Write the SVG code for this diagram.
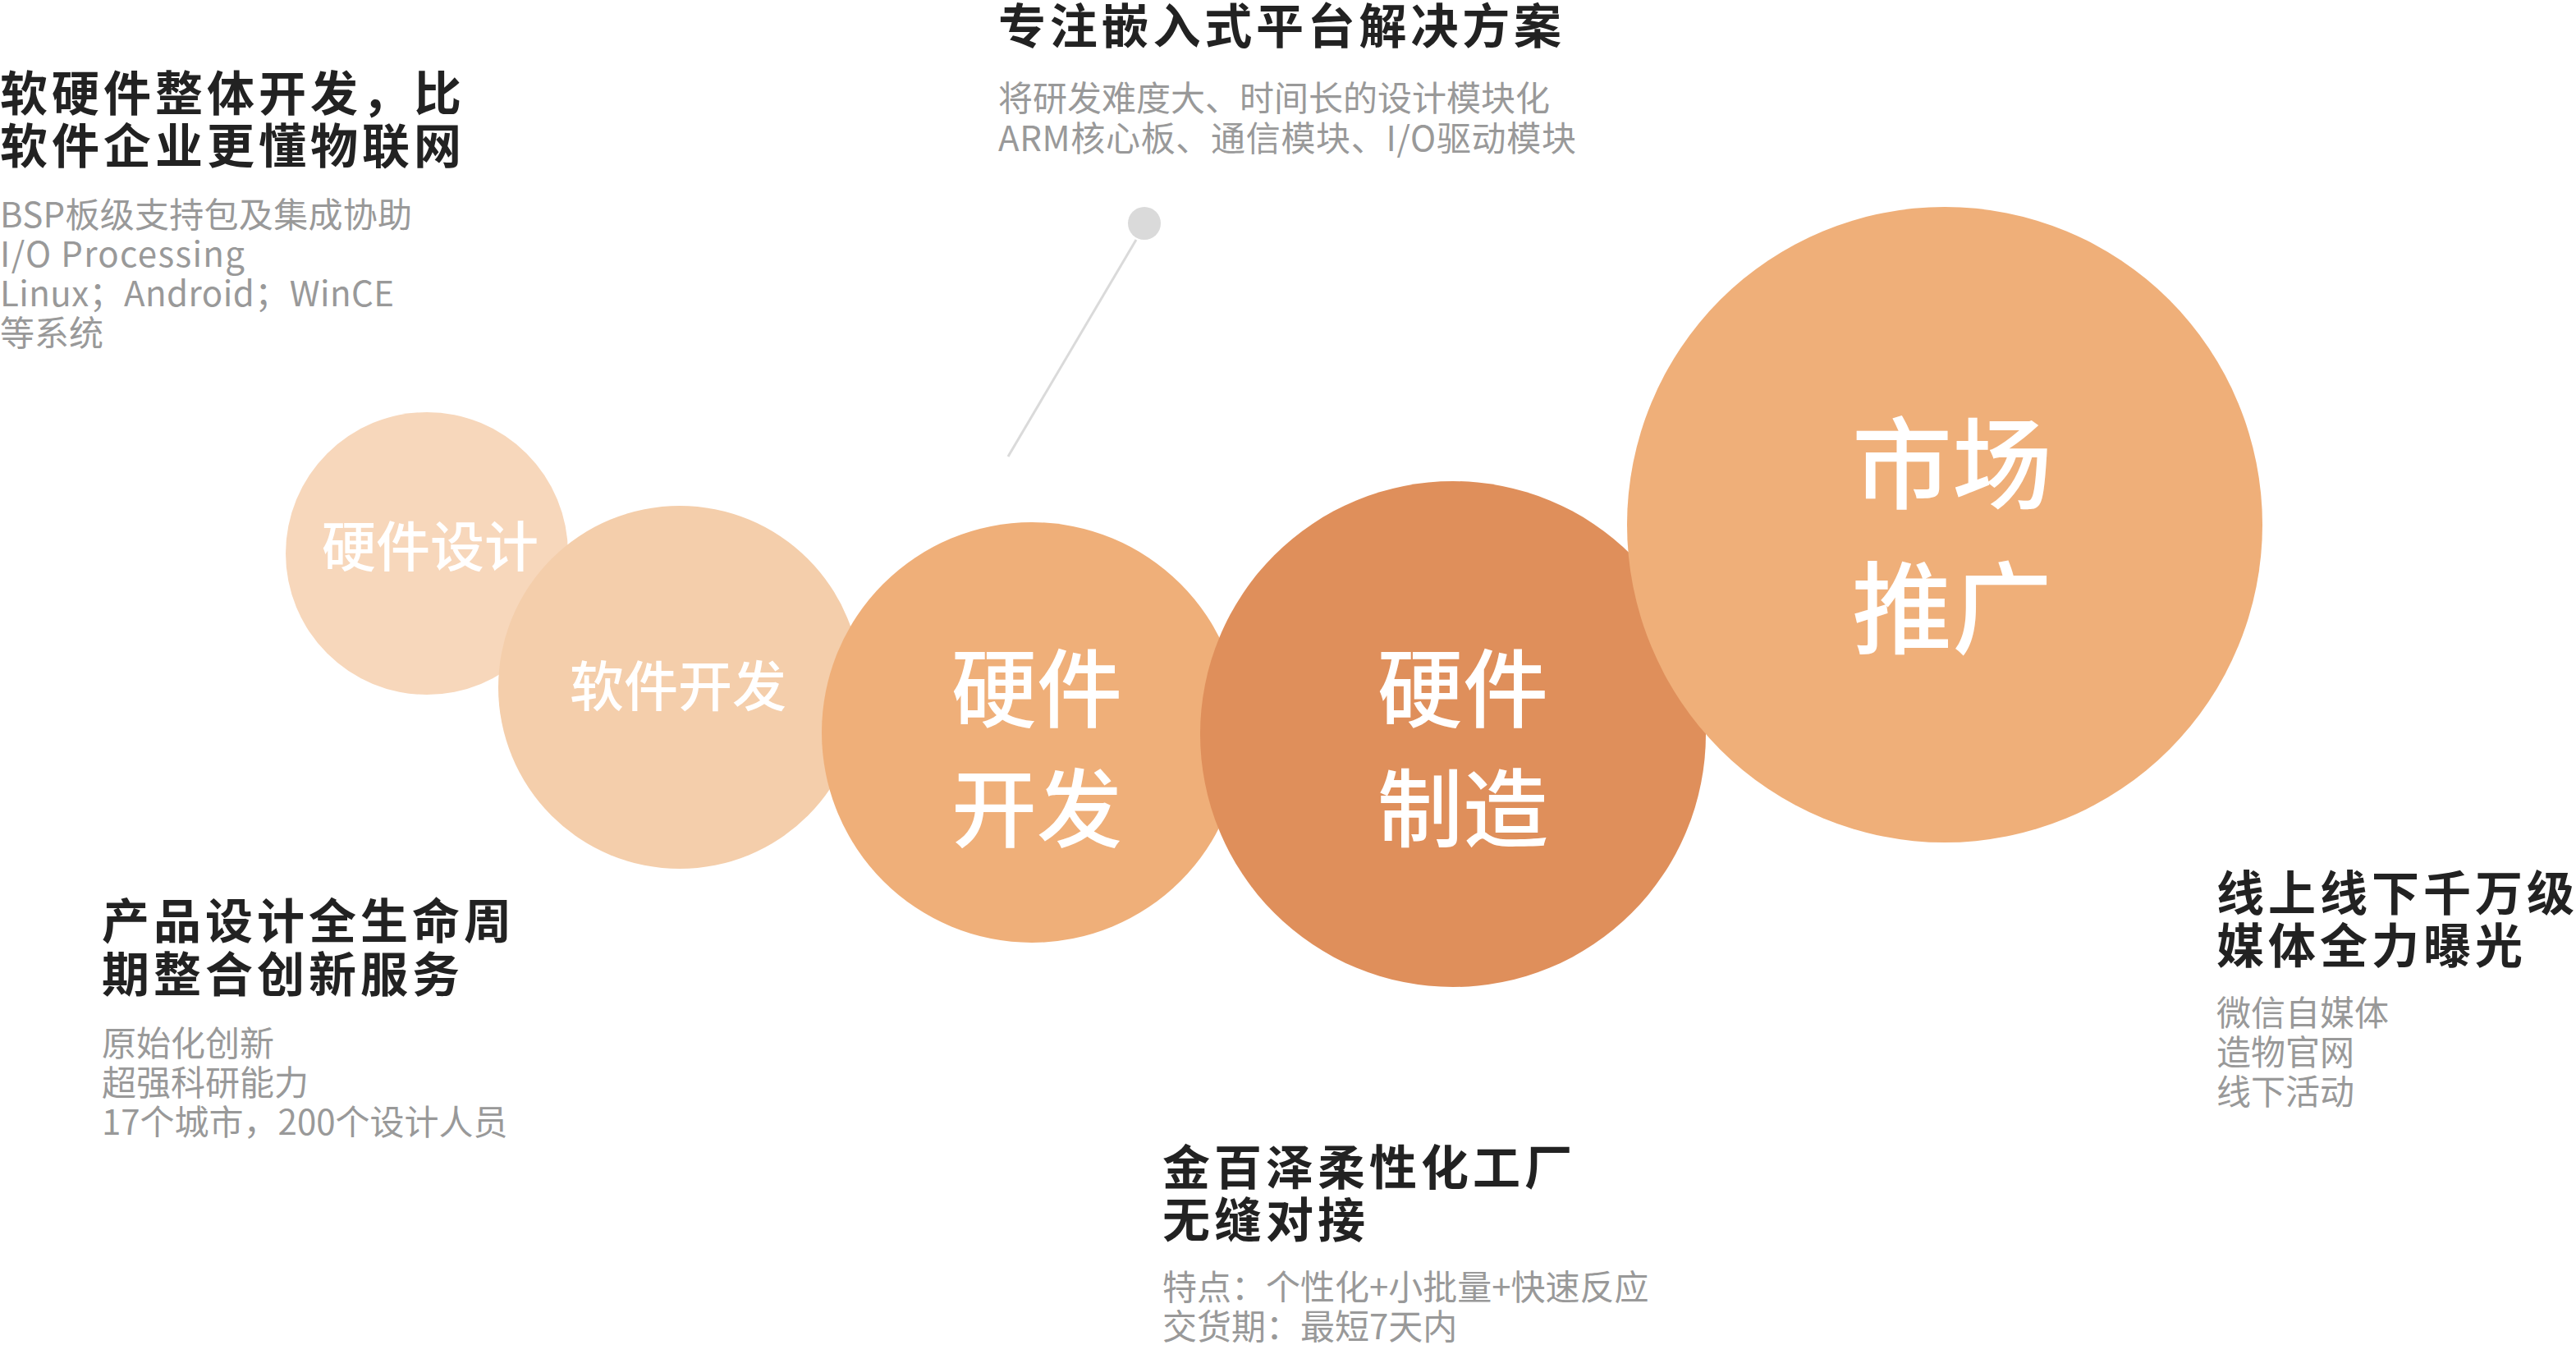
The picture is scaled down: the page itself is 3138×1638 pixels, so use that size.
<svg xmlns="http://www.w3.org/2000/svg" width="3138" height="1638" viewBox="0 0 3138 1638">
<style>
text{font-family:"Noto Sans CJK SC","Liberation Sans",sans-serif;}
.t{font-size:58px;font-weight:700;fill:#222222;letter-spacing:5px;}
.tc{font-size:58px;font-weight:700;fill:#222222;}
.g{font-size:42px;font-weight:400;fill:#999999;}
.c{fill:#ffffff;font-weight:500;text-anchor:middle;}
</style>
<rect width="3138" height="1638" fill="#ffffff"/>
<g id="connectors">
<line x1="1384" y1="292" x2="1228" y2="556" stroke="#dadada" stroke-width="3"/>
<circle cx="1394" cy="272" r="20" fill="#dadada"/>
</g>
<g id="node-hw-design">
<circle cx="520" cy="674" r="172" fill="#f7d7bb"/>
<text class="c" x="524" y="690" font-size="66">硬件设计</text>
</g>
<g id="node-sw-dev">
<circle cx="828" cy="837" r="221" fill="#f4ceab"/>
<text class="c" x="826" y="860" font-size="66">软件开发</text>
</g>
<g id="node-hw-dev">
<circle cx="1257" cy="892" r="256" fill="#efaf79"/>
<text class="c" x="1263" y="878" font-size="104">硬件</text>
<text class="c" x="1263" y="1024" font-size="104">开发</text>
</g>
<g id="node-hw-mfg">
<circle cx="1770" cy="894" r="308" fill="#df8f5b"/>
<text class="c" x="1782" y="878" font-size="104">硬件</text>
<text class="c" x="1782" y="1024" font-size="104">制造</text>
</g>
<g id="node-market">
<circle cx="2369" cy="639" r="387" fill="#efaf79"/>
<text class="c" x="2378" y="610" font-size="122">市场</text>
<text class="c" x="2378" y="786" font-size="122">推广</text>
</g>
<g id="note-software">
<text class="t" x="0" y="135">软硬件整体开发，比</text>
<text class="t" x="0" y="199">软件企业更懂物联网</text>
<text class="g" x="0" y="277" textLength="502" lengthAdjust="spacing">BSP板级支持包及集成协助</text>
<text class="g" x="0" y="325" textLength="298" lengthAdjust="spacing">I/O Processing</text>
<text class="g" x="0" y="373" textLength="480" lengthAdjust="spacing">Linux；Android；WinCE</text>
<text class="g" x="0" y="421">等系统</text>
</g>
<g id="note-embedded">
<text class="tc" x="1216" y="53" textLength="686" lengthAdjust="spacing">专注嵌入式平台解决方案</text>
<text class="g" x="1216" y="135">将研发难度大、时间长的设计模块化</text>
<text class="g" x="1216" y="184" textLength="704" lengthAdjust="spacing">ARM核心板、通信模块、I/O驱动模块</text>
</g>
<g id="note-design">
<text class="t" x="124" y="1143">产品设计全生命周</text>
<text class="t" x="124" y="1208">期整合创新服务</text>
<text class="g" x="124" y="1286">原始化创新</text>
<text class="g" x="124" y="1334">超强科研能力</text>
<text class="g" x="124" y="1382">17个城市，200个设计人员</text>
</g>
<g id="note-factory">
<text class="t" x="1416" y="1443">金百泽柔性化工厂</text>
<text class="t" x="1416" y="1507">无缝对接</text>
<text class="g" x="1416" y="1583">特点：个性化+小批量+快速反应</text>
<text class="g" x="1416" y="1631">交货期：最短7天内</text>
</g>
<g id="note-market">
<text class="t" x="2700" y="1109">线上线下千万级</text>
<text class="t" x="2700" y="1173">媒体全力曝光</text>
<text class="g" x="2700" y="1249">微信自媒体</text>
<text class="g" x="2700" y="1297">造物官网</text>
<text class="g" x="2700" y="1345">线下活动</text>
</g>
</svg>
